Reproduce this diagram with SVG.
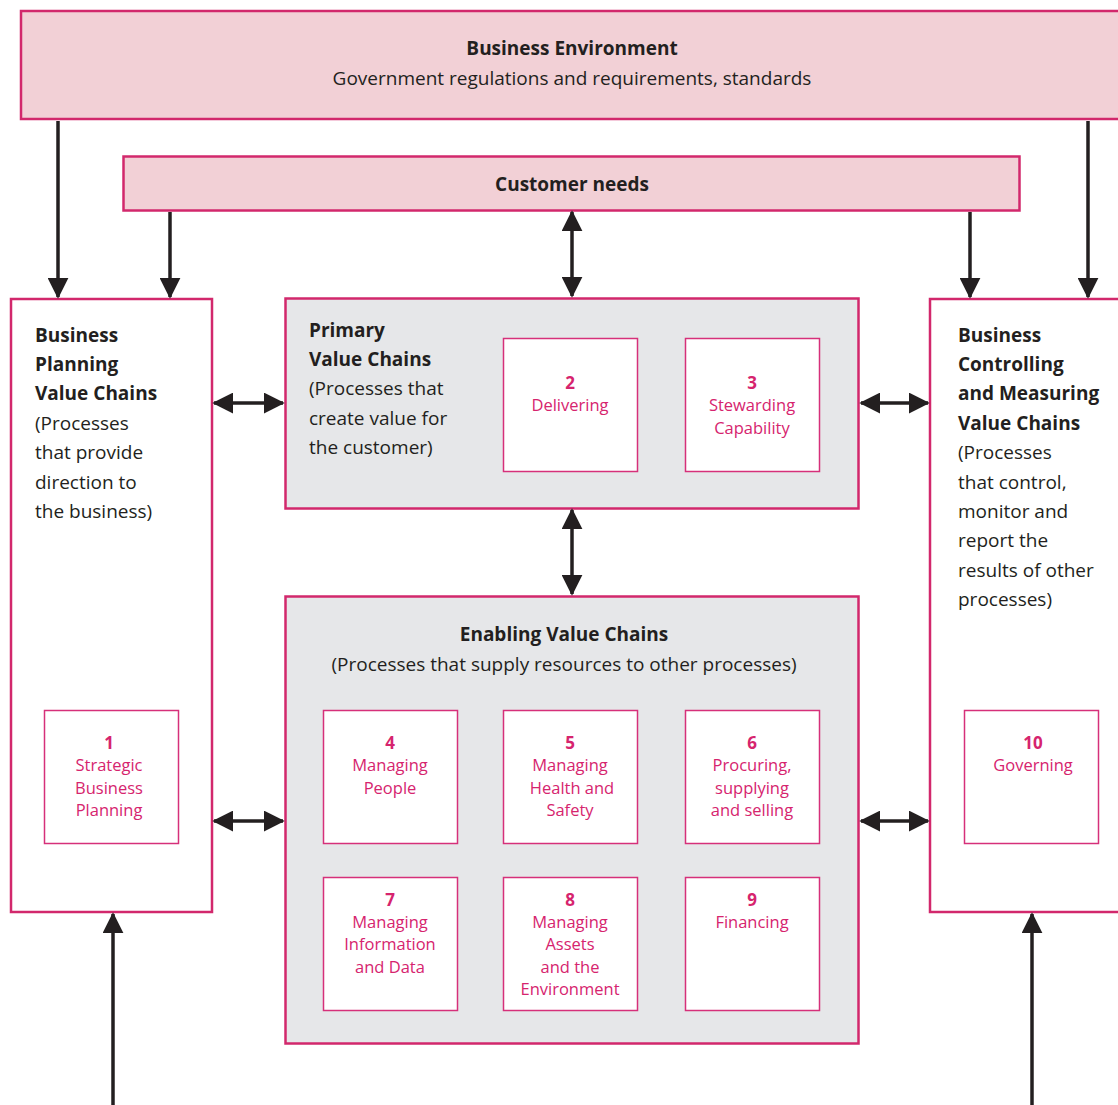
<svg xmlns="http://www.w3.org/2000/svg" width="1118" height="1105" viewBox="0 0 1118 1105">
<style>
.env{fill:#f2d0d6;stroke:#d2286c;stroke-width:2.5}
.outer{fill:#ffffff;stroke:#d2286c;stroke-width:2.5}
.grey{fill:#e6e7e9;stroke:#d2286c;stroke-width:2.5}
.inner{fill:#ffffff;stroke:#d6307a;stroke-width:1.5}
text{font-family:"Open Sans","Liberation Sans",sans-serif;fill:#231f20}
.b{font-weight:bold}
.t{font-size:19px}
.p{font-size:16.5px;fill:#d6246e;text-anchor:middle}
.pn{font-size:17px;font-weight:bold;fill:#d6246e;text-anchor:middle}
.c{text-anchor:middle}
.con{stroke:#231f20;stroke-width:3.5;fill:none}
</style>
<defs>
<marker id="ah" markerWidth="6" markerHeight="6" refX="5.5" refY="3" orient="auto-start-reverse" markerUnits="strokeWidth" viewBox="0 0 6 6">
<path d="M0,0 L6,3 L0,6 z" fill="#231f20"/>
</marker>
</defs>
<g id="business-environment">
<rect class="env" x="21" y="11" width="1110" height="108"/>
<text class="t b c" x="572" y="55">Business Environment</text>
<text class="t c" x="572" y="85">Government regulations and requirements, standards</text>
</g>
<g id="customer-needs">
<rect class="env" x="123.5" y="156.5" width="896" height="54"/>
<text class="t b c" x="572" y="191">Customer needs</text>
</g>
<g id="business-planning">
<rect class="outer" x="11" y="299" width="201" height="613"/>
<text class="t" x="35"><tspan class="b" x="35" y="342">Business</tspan><tspan class="b" x="35" y="371">Planning</tspan><tspan class="b" x="35" y="400">Value Chains</tspan><tspan x="35" y="430">(Processes</tspan><tspan x="35" y="459">that provide</tspan><tspan x="35" y="489">direction to</tspan><tspan x="35" y="518">the business)</tspan></text>
</g>
<g id="primary">
<rect class="grey" x="285.5" y="298.5" width="573" height="210"/>
<text class="t" x="309"><tspan class="b" x="309" y="337">Primary</tspan><tspan class="b" x="309" y="366">Value Chains</tspan><tspan x="309" y="395">(Processes that</tspan><tspan x="309" y="425">create value for</tspan><tspan x="309" y="454">the customer)</tspan></text>
</g>
<g id="business-controlling">
<rect class="outer" x="930" y="299" width="200" height="613"/>
<text class="t" x="958"><tspan class="b" x="958" y="342">Business</tspan><tspan class="b" x="958" y="371">Controlling</tspan><tspan class="b" x="958" y="400">and Measuring</tspan><tspan class="b" x="958" y="430">Value Chains</tspan><tspan x="958" y="459">(Processes</tspan><tspan x="958" y="489">that control,</tspan><tspan x="958" y="518">monitor and</tspan><tspan x="958" y="547">report the</tspan><tspan x="958" y="577">results of other</tspan><tspan x="958" y="606">processes)</tspan></text>
</g>
<g id="enabling">
<rect class="grey" x="285.5" y="596.5" width="573" height="447"/>
<text class="t b c" x="564" y="641">Enabling Value Chains</text>
<text class="t c" x="564" y="671">(Processes that supply resources to other processes)</text>
</g>
<g id="p1">
<rect class="inner" x="44.5" y="710.5" width="134" height="133"/>
<text class="pn" x="109" y="749">1</text>
<text class="p" x="109"><tspan x="109" y="771">Strategic</tspan><tspan x="109" y="794">Business</tspan><tspan x="109" y="816">Planning</tspan></text>
</g>
<g id="p2">
<rect class="inner" x="503.5" y="338.5" width="134" height="133"/>
<text class="pn" x="570" y="389">2</text>
<text class="p" x="570" y="411">Delivering</text>
</g>
<g id="p3">
<rect class="inner" x="685.5" y="338.5" width="134" height="133"/>
<text class="pn" x="752" y="389">3</text>
<text class="p" x="752"><tspan x="752" y="411">Stewarding</tspan><tspan x="752" y="434">Capability</tspan></text>
</g>
<g id="p4">
<rect class="inner" x="323.5" y="710.5" width="134" height="133"/>
<text class="pn" x="390" y="749">4</text>
<text class="p" x="390"><tspan x="390" y="771">Managing</tspan><tspan x="390" y="794">People</tspan></text>
</g>
<g id="p5">
<rect class="inner" x="503.5" y="710.5" width="134" height="133"/>
<text class="pn" x="570" y="749">5</text>
<text class="p" x="570"><tspan x="570" y="771">Managing</tspan><tspan x="572" y="794">Health and</tspan><tspan x="570" y="816">Safety</tspan></text>
</g>
<g id="p6">
<rect class="inner" x="685.5" y="710.5" width="134" height="133"/>
<text class="pn" x="752" y="749">6</text>
<text class="p" x="752"><tspan x="752" y="771">Procuring,</tspan><tspan x="752" y="794">supplying</tspan><tspan x="752" y="816">and selling</tspan></text>
</g>
<g id="p7">
<rect class="inner" x="323.5" y="877.5" width="134" height="133"/>
<text class="pn" x="390" y="906">7</text>
<text class="p" x="390"><tspan x="390" y="928">Managing</tspan><tspan x="390" y="950">Information</tspan><tspan x="390" y="973">and Data</tspan></text>
</g>
<g id="p8">
<rect class="inner" x="503.5" y="877.5" width="134" height="133"/>
<text class="pn" x="570" y="906">8</text>
<text class="p" x="570"><tspan x="570" y="928">Managing</tspan><tspan x="570" y="950">Assets</tspan><tspan x="570" y="973">and the</tspan><tspan x="570" y="995">Environment</tspan></text>
</g>
<g id="p9">
<rect class="inner" x="685.5" y="877.5" width="134" height="133"/>
<text class="pn" x="752" y="906">9</text>
<text class="p" x="752" y="928">Financing</text>
</g>
<g id="p10">
<rect class="inner" x="964.5" y="710.5" width="134" height="133"/>
<text class="pn" x="1033" y="749">10</text>
<text class="p" x="1033" y="771">Governing</text>
</g>
<g id="connectors">
<line class="con" x1="58" y1="121" x2="58" y2="297" marker-end="url(#ah)"/>
<line class="con" x1="170" y1="212" x2="170" y2="297" marker-end="url(#ah)"/>
<line class="con" x1="572" y1="212" x2="572" y2="296" marker-start="url(#ah)" marker-end="url(#ah)"/>
<line class="con" x1="970" y1="212" x2="970" y2="297" marker-end="url(#ah)"/>
<line class="con" x1="1088" y1="121" x2="1088" y2="297" marker-end="url(#ah)"/>
<line class="con" x1="214" y1="403" x2="283" y2="403" marker-start="url(#ah)" marker-end="url(#ah)"/>
<line class="con" x1="861" y1="403" x2="928" y2="403" marker-start="url(#ah)" marker-end="url(#ah)"/>
<line class="con" x1="572" y1="510" x2="572" y2="594" marker-start="url(#ah)" marker-end="url(#ah)"/>
<line class="con" x1="214" y1="821" x2="283" y2="821" marker-start="url(#ah)" marker-end="url(#ah)"/>
<line class="con" x1="861" y1="821" x2="928" y2="821" marker-start="url(#ah)" marker-end="url(#ah)"/>
<line class="con" x1="113" y1="1105" x2="113" y2="914" marker-end="url(#ah)"/>
<line class="con" x1="1032" y1="1105" x2="1032" y2="914" marker-end="url(#ah)"/>
</g>
</svg>
